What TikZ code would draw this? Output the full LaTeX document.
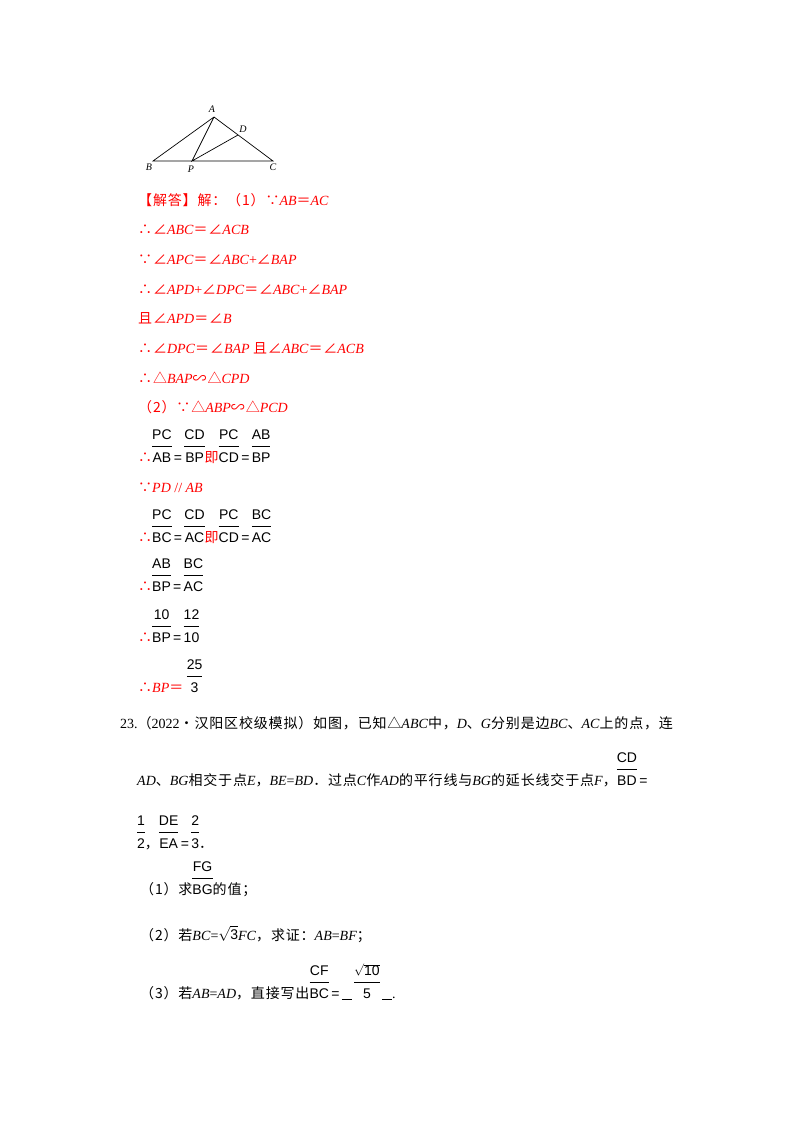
\documentclass[tikz,border=0pt]{standalone}
\usepackage{fontspec}
\setmainfont{Liberation Serif}
\newfontfamily\cjk[LetterSpace=6]{Noto Sans CJK SC}
\newfontfamily\djv{DejaVu Sans}
\newfontfamily\frf{Liberation Sans}
\newcommand\zh[1]{{\cjk #1}}
\newcommand\mi[1]{\textit{#1}}
\newcommand\fr[2]{{\color{black}\setlength{\tabcolsep}{1pt}\begin{tabular}[b]{@{}c@{}}\frf\fontsize{14}{15}\selectfont #1\\[1pt]\hline\rule{0pt}{16pt}\frf\fontsize{14}{15}\selectfont #2\end{tabular}}}
\newcommand\eqs{{\color{black}\frf\,=\,}}
\tikzset{ln/.style={anchor=base west,inner sep=0pt,font=\fontsize{14}{16}\selectfont},
 rl/.style={ln,text=red},
 lb/.style={font=\fontsize{10}{12}\selectfont\itshape,inner sep=0pt}}
\begin{document}
\begin{tikzpicture}[x=1pt,y=-1pt]
\useasboundingbox[fill=white] (0,0) rectangle (800,1132);
% figure
\coordinate (A) at (214,117);
\coordinate (D) at (238,135);
\coordinate (B) at (153,161);
\coordinate (P) at (192,161);
\coordinate (C) at (273,161);
\draw[line width=0.7pt] (B) -- (A) -- (C) -- cycle (A) -- (P) -- (D);
\node[lb] (la) at (212,109) {A};
\node[lb] (ld) at (243,129) {D};
\node[lb] (lbb) at (149,167) {B};
\node[lb] (lp) at (191,169) {P};
\node[lb] (lc) at (273,167) {C};
% solution
\node[rl] (s0) at (138,205) {\zh{【解答】解：（1）∵}\mi{AB}\zh{＝}\mi{AC}};
\node[rl] (s1) at (138,234) {\zh{∴∠}\mi{ABC}\zh{＝∠}\mi{ACB}};
\node[rl] (s2) at (138,264) {\zh{∵∠}\mi{APC}\zh{＝∠}\mi{ABC}+\zh{∠}\mi{BAP}};
\node[rl] (s3) at (138,294) {\zh{∴∠}\mi{APD}+\zh{∠}\mi{DPC}\zh{＝∠}\mi{ABC}+\zh{∠}\mi{BAP}};
\node[rl] (s4) at (138,323) {\zh{且∠}\mi{APD}\zh{＝∠}\mi{B}};
\node[rl] (s5) at (138,353) {\zh{∴∠}\mi{DPC}\zh{＝∠}\mi{BAP} \zh{且∠}\mi{ABC}\zh{＝∠}\mi{ACB}};
\node[rl] (s6) at (138,383) {\zh{∴△}\mi{BAP}\zh{∽△}\mi{CPD}};
\node[rl] (s7) at (138,412) {\zh{（2）∵△}\mi{ABP}\zh{∽△}\mi{PCD}};
\node[rl] (s8) at (138,462) {\zh{∴}\fr{PC}{AB}\eqs\fr{CD}{BP}\zh{即}\fr{PC}{CD}\eqs\fr{AB}{BP}};
\node[rl] (s9) at (138,492) {\zh{∵}\mi{PD} // \mi{AB}};
\node[rl] (s10) at (138,542) {\zh{∴}\fr{PC}{BC}\eqs\fr{CD}{AC}\zh{即}\fr{PC}{CD}\eqs\fr{BC}{AC}};
\node[rl] (s11) at (138,591) {\zh{∴}\fr{AB}{BP}\eqs\fr{BC}{AC}};
\node[rl] (s12) at (138,642) {\zh{∴}\fr{10}{BP}\eqs\fr{12}{10}};
\node[rl] (s13) at (138,692) {\zh{∴}\mi{BP}\zh{＝} \fr{25}{3}};
% problem 23
\node[ln] (p1) at (120,728) {23.\zh{（}2022\zh{•汉阳区校级模拟）如图，已知△}\mi{ABC}\zh{中，}\mi{D}\zh{、}\mi{G}\zh{分别是边}\mi{BC}\zh{、}\mi{AC}\zh{上的点，连}};
\node[ln] (p2) at (137,785) {\mi{AD}\zh{、}\mi{BG}\zh{相交于点}\mi{E}\zh{，}\mi{BE}=\mi{BD}\zh{．过点}\mi{C}\zh{作}\mi{AD}\zh{的平行线与}\mi{BG}\zh{的延长线交于点}\mi{F}\zh{，}\fr{CD}{BD}\eqs};
\node[ln] (p3) at (137,848) {\fr{1}{2}\zh{，}\fr{DE}{EA}\eqs\fr{2}{3}\zh{．}};
\node[ln] (p4) at (140,894) {\zh{（1）求}\fr{FG}{BG}\zh{的值；}};
\node[ln] (p5) at (140,940) {\zh{（2）若}\mi{BC}=\raisebox{1pt}{\Large$\sqrt{\mbox{\frf\fontsize{14}{15}\selectfont 3}}$}\mi{FC}\zh{，求证：}\mi{AB}=\mi{BF}\zh{；}};
\node[ln] (p6) at (140,998) {\zh{（3）若}\mi{AB}=\mi{AD}\zh{，直接写出}\fr{CF}{BC}\eqs\underline{\hspace{10pt}}\,\fr{\large$\sqrt{\mbox{\frf\fontsize{14}{15}\selectfont 10}}$}{5}\,\underline{\hspace{10pt}}.};
\end{tikzpicture}
\end{document}
